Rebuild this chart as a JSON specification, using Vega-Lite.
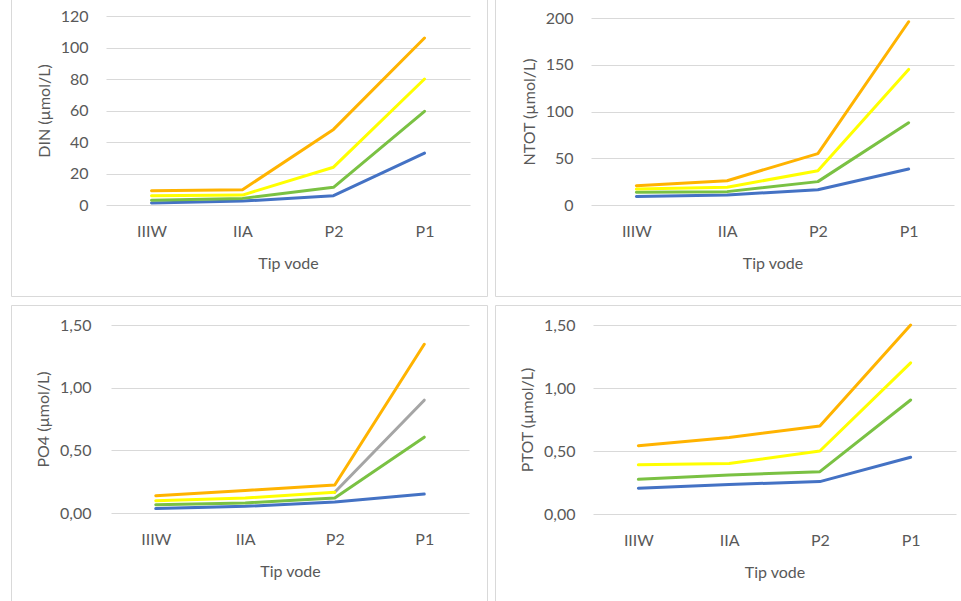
{
  "$schema": "https://vega.github.io/schema/vega-lite/v6.json",
  "background": "white",
  "padding": {"left": 10, "top": -11, "right": -8, "bottom": -8},
  "config": {
    "font": "Lato",
    "view": {"stroke": "#D9D9D9", "strokeWidth": 1},
    "axis": {
      "labelColor": "#595959",
      "titleColor": "#595959",
      "labelFontSize": 16,
      "titleFontSize": 16,
      "titleFontWeight": "normal",
      "labelFont": "Lato",
      "titleFont": "Lato",
      "gridColor": "#D9D9D9",
      "gridWidth": 1,
      "domain": false,
      "ticks": false,
      "tickSize": 0,
      "labelOverlap": false,
      "labelFlush": false
    },
    "axisX": {"grid": false, "labelAngle": 0, "labelPadding": 18, "titlePadding": 16},
    "axisY": {"grid": true, "labelPadding": 18, "titlePadding": 8},
    "line": {"strokeWidth": 3, "strokeCap": "round", "strokeJoin": "round"}
  },
  "data": {
    "values": [
      {"panel": "DIN", "tip": "IIIW", "s": "s1", "v": 1.3},
      {"panel": "DIN", "tip": "IIA", "s": "s1", "v": 2.5},
      {"panel": "DIN", "tip": "P2", "s": "s1", "v": 5.9},
      {"panel": "DIN", "tip": "P1", "s": "s1", "v": 33},
      {"panel": "DIN", "tip": "IIIW", "s": "s2", "v": 3},
      {"panel": "DIN", "tip": "IIA", "s": "s2", "v": 4.2},
      {"panel": "DIN", "tip": "P2", "s": "s2", "v": 11.2},
      {"panel": "DIN", "tip": "P1", "s": "s2", "v": 59.5},
      {"panel": "DIN", "tip": "IIIW", "s": "s3", "v": 5.9},
      {"panel": "DIN", "tip": "IIA", "s": "s3", "v": 6.3},
      {"panel": "DIN", "tip": "P2", "s": "s3", "v": 24},
      {"panel": "DIN", "tip": "P1", "s": "s3", "v": 80},
      {"panel": "DIN", "tip": "IIIW", "s": "s5", "v": 9},
      {"panel": "DIN", "tip": "IIA", "s": "s5", "v": 9.7},
      {"panel": "DIN", "tip": "P2", "s": "s5", "v": 48},
      {"panel": "DIN", "tip": "P1", "s": "s5", "v": 106},

      {"panel": "NTOT", "tip": "IIIW", "s": "s1", "v": 9},
      {"panel": "NTOT", "tip": "IIA", "s": "s1", "v": 10.7},
      {"panel": "NTOT", "tip": "P2", "s": "s1", "v": 16.4},
      {"panel": "NTOT", "tip": "P1", "s": "s1", "v": 38.5},
      {"panel": "NTOT", "tip": "IIIW", "s": "s2", "v": 13.6},
      {"panel": "NTOT", "tip": "IIA", "s": "s2", "v": 14.3},
      {"panel": "NTOT", "tip": "P2", "s": "s2", "v": 25},
      {"panel": "NTOT", "tip": "P1", "s": "s2", "v": 88},
      {"panel": "NTOT", "tip": "IIIW", "s": "s3", "v": 17},
      {"panel": "NTOT", "tip": "IIA", "s": "s3", "v": 19},
      {"panel": "NTOT", "tip": "P2", "s": "s3", "v": 36.7},
      {"panel": "NTOT", "tip": "P1", "s": "s3", "v": 145},
      {"panel": "NTOT", "tip": "IIIW", "s": "s5", "v": 20.7},
      {"panel": "NTOT", "tip": "IIA", "s": "s5", "v": 26},
      {"panel": "NTOT", "tip": "P2", "s": "s5", "v": 55},
      {"panel": "NTOT", "tip": "P1", "s": "s5", "v": 196},

      {"panel": "PO4", "tip": "IIIW", "s": "s1", "v": 0.035},
      {"panel": "PO4", "tip": "IIA", "s": "s1", "v": 0.053},
      {"panel": "PO4", "tip": "P2", "s": "s1", "v": 0.088},
      {"panel": "PO4", "tip": "P1", "s": "s1", "v": 0.151},
      {"panel": "PO4", "tip": "IIIW", "s": "s2", "v": 0.066},
      {"panel": "PO4", "tip": "IIA", "s": "s2", "v": 0.08},
      {"panel": "PO4", "tip": "P2", "s": "s2", "v": 0.12},
      {"panel": "PO4", "tip": "P1", "s": "s2", "v": 0.605},
      {"panel": "PO4", "tip": "P2", "s": "s4", "v": 0.165},
      {"panel": "PO4", "tip": "P1", "s": "s4", "v": 0.9},
      {"panel": "PO4", "tip": "IIIW", "s": "s3", "v": 0.098},
      {"panel": "PO4", "tip": "IIA", "s": "s3", "v": 0.12},
      {"panel": "PO4", "tip": "P2", "s": "s3", "v": 0.165},
      {"panel": "PO4", "tip": "IIIW", "s": "s5", "v": 0.138},
      {"panel": "PO4", "tip": "IIA", "s": "s5", "v": 0.18},
      {"panel": "PO4", "tip": "P2", "s": "s5", "v": 0.223},
      {"panel": "PO4", "tip": "P1", "s": "s5", "v": 1.346},

      {"panel": "PTOT", "tip": "IIIW", "s": "s1", "v": 0.204},
      {"panel": "PTOT", "tip": "IIA", "s": "s1", "v": 0.235},
      {"panel": "PTOT", "tip": "P2", "s": "s1", "v": 0.257},
      {"panel": "PTOT", "tip": "P1", "s": "s1", "v": 0.45},
      {"panel": "PTOT", "tip": "IIIW", "s": "s2", "v": 0.275},
      {"panel": "PTOT", "tip": "IIA", "s": "s2", "v": 0.31},
      {"panel": "PTOT", "tip": "P2", "s": "s2", "v": 0.336},
      {"panel": "PTOT", "tip": "P1", "s": "s2", "v": 0.905},
      {"panel": "PTOT", "tip": "IIIW", "s": "s3", "v": 0.39},
      {"panel": "PTOT", "tip": "IIA", "s": "s3", "v": 0.4},
      {"panel": "PTOT", "tip": "P2", "s": "s3", "v": 0.5},
      {"panel": "PTOT", "tip": "P1", "s": "s3", "v": 1.2},
      {"panel": "PTOT", "tip": "IIIW", "s": "s5", "v": 0.542},
      {"panel": "PTOT", "tip": "IIA", "s": "s5", "v": 0.608},
      {"panel": "PTOT", "tip": "P2", "s": "s5", "v": 0.698},
      {"panel": "PTOT", "tip": "P1", "s": "s5", "v": 1.5}
    ]
  },
  "columns": 2,
  "spacing": {"row": 7, "column": 6},
  "concat": [
    {
      "width": 476,
      "height": 306,
      "transform": [{"filter": "datum.panel === 'DIN'"}],
      "mark": "line",
      "encoding": {
        "x": {
          "field": "tip", "type": "nominal", "sort": ["IIIW", "IIA", "P2", "P1"],
          "scale": {"type": "point", "domain": ["IIIW", "IIA", "P2", "P1"], "range": [95, 459], "padding": 0.5},
          "axis": {"title": "Tip vode", "offset": -91}
        },
        "y": {
          "field": "v", "type": "quantitative",
          "scale": {"domain": [0, 120], "nice": false, "range": [215, 26]},
          "axis": {"title": "DIN (µmol/L)", "values": [0, 20, 40, 60, 80, 100, 120], "offset": -95}
        },
        "color": {
          "field": "s", "type": "nominal", "legend": null,
          "scale": {"domain": ["s1", "s2", "s3", "s4", "s5"], "range": ["#4472C4", "#7AC143", "#FFFF00", "#A5A5A5", "#FFB300"]}
        }
      }
    },
    {
      "width": 476,
      "height": 306,
      "transform": [{"filter": "datum.panel === 'NTOT'"}],
      "mark": "line",
      "encoding": {
        "x": {
          "field": "tip", "type": "nominal", "sort": ["IIIW", "IIA", "P2", "P1"],
          "scale": {"type": "point", "domain": ["IIIW", "IIA", "P2", "P1"], "range": [96, 459], "padding": 0.5},
          "axis": {"title": "Tip vode", "offset": -91}
        },
        "y": {
          "field": "v", "type": "quantitative",
          "scale": {"domain": [0, 200], "nice": false, "range": [215, 28]},
          "axis": {"title": "NTOT (µmol/L)", "values": [0, 50, 100, 150, 200], "offset": -96}
        },
        "color": {
          "field": "s", "type": "nominal", "legend": null,
          "scale": {"domain": ["s1", "s2", "s3", "s4", "s5"], "range": ["#4472C4", "#7AC143", "#FFFF00", "#A5A5A5", "#FFB300"]}
        }
      }
    },
    {
      "width": 476,
      "height": 306,
      "transform": [{"filter": "datum.panel === 'PO4'"}],
      "mark": "line",
      "encoding": {
        "x": {
          "field": "tip", "type": "nominal", "sort": ["IIIW", "IIA", "P2", "P1"],
          "scale": {"type": "point", "domain": ["IIIW", "IIA", "P2", "P1"], "range": [100, 458], "padding": 0.5},
          "axis": {"title": "Tip vode", "offset": -98}
        },
        "y": {
          "field": "v", "type": "quantitative",
          "scale": {"domain": [0, 1.5], "nice": false, "range": [208, 20]},
          "axis": {
            "title": "PO4 (µmol/L)", "values": [0, 0.5, 1, 1.5], "offset": -100, "labelPadding": 20,
            "labelExpr": "replace(format(datum.value, '.2f'), '.', ',')"
          }
        },
        "color": {
          "field": "s", "type": "nominal", "legend": null,
          "scale": {"domain": ["s1", "s2", "s3", "s4", "s5"], "range": ["#4472C4", "#7AC143", "#FFFF00", "#A5A5A5", "#FFB300"]}
        }
      }
    },
    {
      "width": 476,
      "height": 306,
      "transform": [{"filter": "datum.panel === 'PTOT'"}],
      "mark": "line",
      "encoding": {
        "x": {
          "field": "tip", "type": "nominal", "sort": ["IIIW", "IIA", "P2", "P1"],
          "scale": {"type": "point", "domain": ["IIIW", "IIA", "P2", "P1"], "range": [98, 461], "padding": 0.5},
          "axis": {"title": "Tip vode", "offset": -97}
        },
        "y": {
          "field": "v", "type": "quantitative",
          "scale": {"domain": [0, 1.5], "nice": false, "range": [209, 20]},
          "axis": {
            "title": "PTOT (µmol/L)", "values": [0, 0.5, 1, 1.5], "offset": -98,
            "labelExpr": "replace(format(datum.value, '.2f'), '.', ',')"
          }
        },
        "color": {
          "field": "s", "type": "nominal", "legend": null,
          "scale": {"domain": ["s1", "s2", "s3", "s4", "s5"], "range": ["#4472C4", "#7AC143", "#FFFF00", "#A5A5A5", "#FFB300"]}
        }
      }
    }
  ]
}
